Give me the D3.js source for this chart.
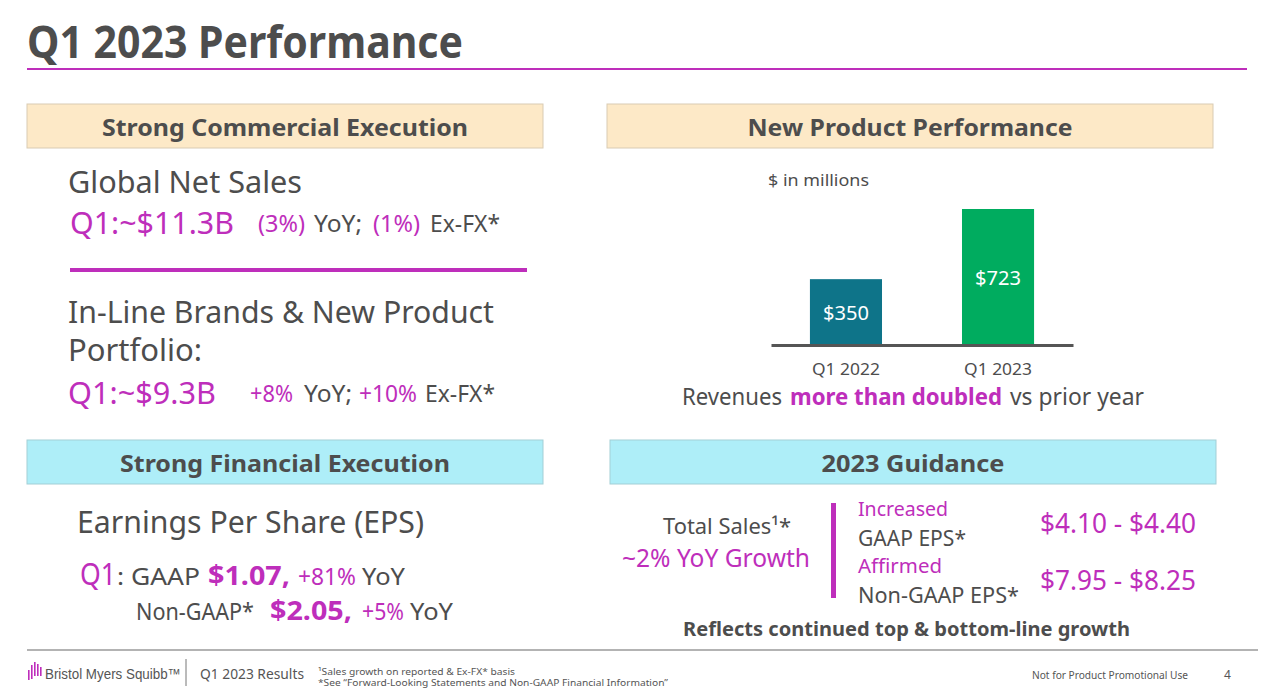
<!DOCTYPE html>
<html>
<head>
<meta charset="utf-8">
<script src="https://cdn.jsdelivr.net/npm/d3@7"></script>
<style>
  html, body { margin: 0; padding: 0; background: #fff; }
  svg { display: block; font-family: "Noto Sans", "Open Sans", sans-serif; }
</style>
</head>
<body>
<svg id="slide" width="1263" height="696"></svg>
<script>
// ---------- data ----------
const categories = ["Q1 2022", "Q1 2023"];
const revenues = [350, 723];
const barLabels = ["$350", "$723"];
const guidanceLabels = ["GAAP EPS*", "Non-GAAP EPS*"];
const guidanceStatus = ["Increased", "Affirmed"];
const guidanceRanges = ["$4.10 - $4.40", "$7.95 - $8.25"];
const salesGrowth = ["(3%)", "(1%)"];
const inlineGrowth = ["+8%", "+10%"];

// ---------- style ----------
const GRAY = "#4d4d4d";
const MAG = "#be2ebb";
const PEACH = "#fde9c7";
const CYAN = "#aeeef8";
const barColors = ["#0e7489", "#00ac5f"];

const svg = d3.select("#slide");

function T(x, y, str, o = {}) {
  const t = svg.append("text")
    .attr("x", x).attr("y", y)
    .attr("font-size", o.size || 24)
    .attr("fill", o.color || GRAY)
    .attr("font-weight", o.bold ? 700 : 400)
    .attr("text-anchor", o.anchor || "start")
    .text(str);
  if (o.w) t.attr("textLength", o.w).attr("lengthAdjust", "spacingAndGlyphs");
  if (o.family) t.attr("font-family", o.family);
  return t;
}

// ---------- title ----------
T(27, 58, "Q1 2023 Performance", { size: 44, bold: true, w: 436 });
svg.append("line").attr("x1", 27).attr("x2", 1247).attr("y1", 69).attr("y2", 69)
  .attr("stroke", MAG).attr("stroke-width", 2);

// ---------- section boxes ----------
const boxes = [
  { x: 27, y: 104, w: 516, fill: PEACH, stroke: "#d9cbb3", label: "Strong Commercial Execution", tw: 366 },
  { x: 607, y: 104, w: 606, fill: PEACH, stroke: "#d9cbb3", label: "New Product Performance", tw: 325 },
  { x: 27, y: 440, w: 516, fill: CYAN, stroke: "#a3cfd6", label: "Strong Financial Execution", tw: 330 },
  { x: 610, y: 440, w: 606, fill: CYAN, stroke: "#a3cfd6", label: "2023 Guidance", tw: 183 }
];
boxes.forEach(b => {
  svg.append("rect").attr("x", b.x).attr("y", b.y).attr("width", b.w).attr("height", 44)
    .attr("fill", b.fill).attr("stroke", b.stroke).attr("stroke-width", 1);
  T(b.x + b.w / 2, b.y + 32, b.label, { size: 24, bold: true, anchor: "middle", w: b.tw });
});

// ---------- left: commercial ----------
T(68, 193, "Global Net Sales", { size: 30, w: 234 });
T(70, 234, "Q1:~$11.3B", { size: 30, color: MAG, w: 164 });
T(258, 232, salesGrowth[0], { size: 23, color: MAG, w: 47 });
T(314, 232, "YoY;", { size: 23, w: 48 });
T(373, 232, salesGrowth[1], { size: 23, color: MAG, w: 47 });
T(430, 232, "Ex-FX*", { size: 23, w: 70 });

svg.append("line").attr("x1", 70).attr("x2", 527).attr("y1", 270).attr("y2", 270)
  .attr("stroke", MAG).attr("stroke-width", 4);

T(68, 323, "In-Line Brands & New Product", { size: 30, w: 426 });
T(68, 361, "Portfolio:", { size: 30, w: 134 });
T(68, 404, "Q1:~$9.3B", { size: 30, color: MAG, w: 148 });
T(250, 402, inlineGrowth[0], { size: 23, color: MAG, w: 43 });
T(304, 402, "YoY;", { size: 23, w: 48 });
T(359, 402, inlineGrowth[1], { size: 23, color: MAG, w: 58 });
T(425, 402, "Ex-FX*", { size: 23, w: 70 });

// ---------- left: financial ----------
T(77, 533, "Earnings Per Share (EPS)", { size: 30, w: 347 });
T(80, 585, "Q1", { size: 30, color: MAG, w: 36 });
T(117, 585, ": GAAP", { size: 24, w: 83 });
T(208, 585, "$1.07,", { size: 26, bold: true, color: MAG, w: 82 });
T(298, 585, "+81%", { size: 24, color: MAG, w: 58 });
T(362, 585, "YoY", { size: 24, w: 43 });

T(136, 620, "Non-GAAP*", { size: 24, w: 118 });
T(270, 620, "$2.05,", { size: 26, bold: true, color: MAG, w: 82 });
T(362, 620, "+5%", { size: 24, color: MAG, w: 42 });
T(410, 620, "YoY", { size: 24, w: 43 });

// ---------- right: new product chart ----------
T(768, 186, "$ in millions", { size: 17, w: 101 });

const x = d3.scaleBand().domain(categories).range([771, 1073])
  .paddingInner(0.526).paddingOuter(0.256);
const y = d3.scaleLinear().domain([0, 723]).range([345, 209]);

svg.selectAll("rect.bar").data(revenues).join("rect")
  .attr("class", "bar")
  .attr("x", (d, i) => x(categories[i]))
  .attr("width", x.bandwidth())
  .attr("y", d => y(d))
  .attr("height", d => y(0) - y(d))
  .attr("fill", (d, i) => barColors[i]);

svg.selectAll("text.barlab").data(revenues).join("text")
  .attr("class", "barlab")
  .attr("x", (d, i) => x(categories[i]) + x.bandwidth() / 2)
  .attr("y", (d, i) => i === 0 ? (y(d) + y(0)) / 2 + 8 : y(d) + 76)
  .attr("text-anchor", "middle")
  .attr("fill", "#fff")
  .attr("font-size", 20)
  .attr("textLength", 46).attr("lengthAdjust", "spacingAndGlyphs")
  .text((d, i) => barLabels[i]);

const axis = d3.axisBottom(x).tickSize(0).tickPadding(0);
const ag = svg.append("g").attr("transform", `translate(0,${y(0)})`).call(axis);
ag.select(".domain").attr("stroke", "#555").attr("stroke-width", 3);
ag.selectAll(".tick text").attr("font-size", 17).attr("fill", GRAY)
  .attr("font-family", "Noto Sans").attr("dy", 0).attr("y", 30)
  .attr("textLength", 68).attr("lengthAdjust", "spacingAndGlyphs");

T(682, 405, "Revenues", { size: 23, w: 100 });
T(790, 405, "more than doubled", { size: 23, bold: true, color: MAG, w: 212 });
T(1010, 405, "vs prior year", { size: 23, w: 134 });

// ---------- right: guidance ----------
T(663, 534, "Total Sales¹*", { size: 22, w: 128 });
T(622, 567, "~2% YoY Growth", { size: 26, color: MAG, w: 188 });

svg.append("rect").attr("x", 831).attr("y", 503).attr("width", 5).attr("height", 95).attr("fill", MAG);

const gy = [516, 573];
guidanceLabels.forEach((lab, i) => {
  T(858, gy[i], guidanceStatus[i], { size: 20, color: MAG, w: i === 0 ? 90 : 84 });
  T(858, gy[i] + 30, lab, { size: 22, w: i === 0 ? 108 : 161 });
  T(1040, gy[i] + 17, guidanceRanges[i], { size: 28, color: MAG, w: 156 });
});

T(683, 636, "Reflects continued top & bottom-line growth", { size: 20, bold: true, w: 447 });

// ---------- footer ----------
svg.append("line").attr("x1", 27).attr("x2", 1258).attr("y1", 650).attr("y2", 650)
  .attr("stroke", "#9a9a9a").attr("stroke-width", 1.5);

// logo mark
const logo = svg.append("g").attr("fill", MAG);
[[28, 670, 10], [31, 665, 14], [34, 662, 14], [37, 664, 12], [40, 667, 9]].forEach(r => {
  logo.append("rect").attr("x", r[0]).attr("y", r[1]).attr("width", 1.6).attr("height", r[2]);
});
T(45, 679, "Bristol Myers Squibb™", { size: 15, color: "#555", w: 136, family: "Liberation Sans" });
svg.append("line").attr("x1", 186).attr("x2", 186).attr("y1", 659).attr("y2", 686)
  .attr("stroke", "#777").attr("stroke-width", 1);
T(200, 679, "Q1 2023 Results", { size: 14, color: "#555", w: 104 });
T(318, 675, "¹Sales growth on reported & Ex-FX* basis", { size: 9.5, color: "#555", w: 197 });
T(318, 686, "*See “Forward-Looking Statements and Non-GAAP Financial Information”", { size: 9.5, color: "#555", w: 350 });
T(1032, 679, "Not for Product Promotional Use", { size: 11, color: "#555", w: 156 });
T(1224, 679, "4", { size: 12, color: "#555" });
</script>
</body>
</html>
